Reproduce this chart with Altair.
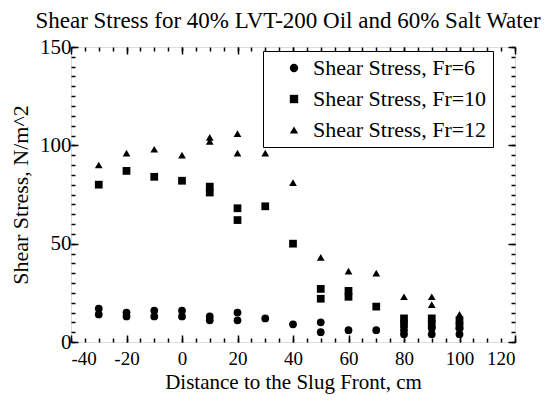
import altair as alt
import pandas as pd

names = ["Shear Stress, Fr=6", "Shear Stress, Fr=10", "Shear Stress, Fr=12"]

x_fr6 = [-30, -30, -20, -20, -10, -10, 0, 0, 10, 10, 20, 20, 30, 40, 50, 50, 60, 70, 80, 80, 90, 90, 100, 100]
y_fr6 = [17, 14, 15, 13, 16, 13, 16, 13, 13, 11, 15, 11, 12, 9, 10, 5, 6, 6, 6, 4, 7, 4, 7, 4]

x_fr10 = [-30, -20, -10, 0, 10, 10, 20, 20, 30, 40, 50, 50, 60, 60, 70, 80, 80, 90, 90, 100, 100]
y_fr10 = [80, 87, 84, 82, 79, 76, 68, 62, 69, 50, 27, 22, 26, 23, 18, 12, 9, 12, 9, 11, 8]

x_fr12 = [-30, -20, -10, 0, 10, 10, 20, 20, 30, 40, 50, 60, 70, 80, 90, 90, 100]
y_fr12 = [90, 96, 98, 95, 104, 102, 106, 96, 96, 81, 43, 36, 35, 23, 23, 19, 14]

major_x = [-40, -20, 0, 20, 40, 60, 80, 100, 120]
minor_x = list(range(-40, 121, 5))
major_y = [0, 50, 100, 150]
minor_y = list(range(0, 151, 5))

rows = []
for nm, xs_, ys_ in zip(names, [x_fr6, x_fr10, x_fr12], [y_fr6, y_fr10, y_fr12]):
    for a, b in zip(xs_, ys_):
        rows.append({"x": a, "y": b, "series": nm})
df = pd.DataFrame(rows)

W, H = 444, 295
FONT = "Liberation Serif"
xs = alt.Scale(domain=[-40, 120], nice=False, zero=False)
ys = alt.Scale(domain=[0, 150], nice=False, zero=False)

base = alt.Chart(df)

points = base.mark_point(filled=True, opacity=1, color="black", size=60).encode(
    x=alt.X("x:Q", scale=xs, axis=alt.Axis(
        orient="bottom", values=major_x, title="Distance to the Slug Front, cm",
        labelExpr="'' + datum.value",
        tickSize=0, labelPadding=7, domain=False, grid=False,
        labelFont=FONT, labelFontSize=19, labelColor="black",
        titleFont=FONT, titleFontSize=21, titleFontWeight="normal", titleColor="black",
        titlePadding=3)),
    y=alt.Y("y:Q", scale=ys, axis=alt.Axis(
        orient="left", values=major_y, title="Shear Stress, N/m^2",
        tickSize=0, labelPadding=0, domain=False, grid=False,
        labelFont=FONT, labelFontSize=21, labelColor="black",
        titleFont=FONT, titleFontSize=22, titleFontWeight="normal", titleColor="black",
        titlePadding=7)),
    shape=alt.Shape("series:N", scale=alt.Scale(domain=names, range=["circle", "square", "triangle-up"]),
                    legend=alt.Legend(
                        title=None, orient="none", legendX=192, legendY=4,
                        labelFont=FONT, labelFontSize=22, labelColor="black", labelLimit=400,
                        symbolFillColor="black", symbolStrokeColor="black", symbolSize=70,
                        strokeColor="black", fillColor="white", padding=6,
                        symbolOffset=14, labelOffset=8, rowPadding=9)),
)


def tick_layer(ox, oy, offx, offy, vx, vy, size):
    return base.mark_point(opacity=0).encode(
        x=alt.X("x:Q", scale=xs, axis=alt.Axis(
            orient=ox, offset=offx, values=vx, labels=False, title=None, domain=False,
            grid=False, tickSize=size, tickColor="black", tickWidth=1.5)),
        y=alt.Y("y:Q", scale=ys, axis=alt.Axis(
            orient=oy, offset=offy, values=vy, labels=False, title=None, domain=False,
            grid=False, tickSize=size, tickColor="black", tickWidth=1.5)),
    )


lay_b = tick_layer("top", "right", -H, -W, major_x, major_y, 7)
lay_c = tick_layer("top", "right", -H, -W, minor_x, minor_y, 4)
lay_d = tick_layer("bottom", "left", -H, -W, major_x, major_y, 7)
lay_e = tick_layer("bottom", "left", -H, -W, minor_x, minor_y, 4)

chart = alt.layer(points, lay_b, lay_c, lay_d, lay_e).resolve_axis(
    x="independent", y="independent"
).properties(
    width=W, height=H,
    autosize=alt.AutoSizeParams(type="none"),
    padding={"left": 63, "top": 39, "right": 35, "bottom": 52},
    title=alt.TitleParams(
        "Shear Stress for 40% LVT-200 Oil and 60% Salt Water",
        font=FONT, fontSize=23, fontWeight="normal", color="black",
        anchor="middle", offset=3, dx=-5),
).configure_view(stroke="black", strokeWidth=2).configure(background="white")

chart.save("out.html", embed_options={"renderer": "svg", "actions": False})
